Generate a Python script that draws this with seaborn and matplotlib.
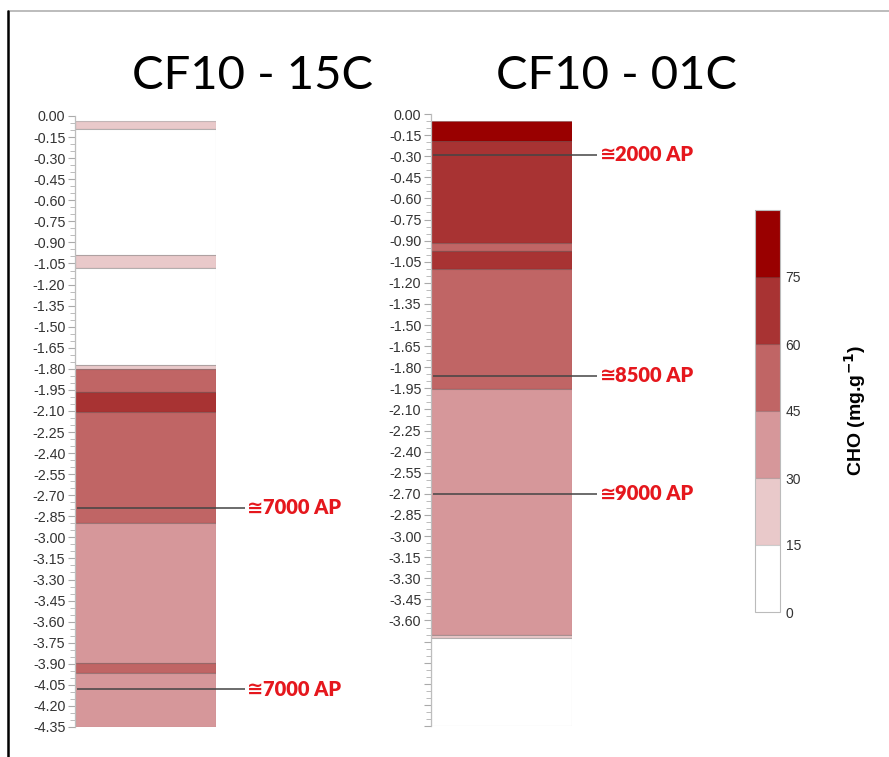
import matplotlib
matplotlib.use("Agg")
import matplotlib.pyplot as plt
import matplotlib.colors as mcolors
from matplotlib.cm import ScalarMappable
from matplotlib.ticker import MultipleLocator, FuncFormatter
import seaborn as sns

# Core names
core_names = ["CF10 - 15C", "CF10 - 01C"]

# CF10-15C: layer top / base depth (m) and CHO content (mg.g-1)
c15_top = [0.035, 0.09, 0.99, 1.08, 1.775, 1.80, 1.965, 2.105, 2.90, 3.895, 3.965]
c15_base = [0.09, 0.99, 1.08, 1.775, 1.80, 1.965, 2.105, 2.90, 3.895, 3.965, 4.35]
c15_cho = [22, 8, 22, 8, 22, 52, 68, 52, 38, 52, 38]

# CF10-01C: layer top / base depth (m) and CHO content (mg.g-1)
c01_top = [0.05, 0.19, 0.915, 0.972, 1.104, 1.955, 3.70, 3.725]
c01_base = [0.19, 0.915, 0.972, 1.104, 1.955, 3.70, 3.725, 4.35]
c01_cho = [82, 68, 52, 68, 52, 38, 22, 8]

# Dated horizons
c15_age_depth = [2.79, 4.08]
c15_age_label = ["7000 AP", "7000 AP"]
c01_age_depth = [0.29, 1.86, 2.70]
c01_age_label = ["2000 AP", "8500 AP", "9000 AP"]

# CHO classes
cho_bounds = [0, 15, 30, 45, 60, 75, 90]
cho_ticks = [0, 15, 30, 45, 60, 75]
cho_colors = ["#ffffff", "#e9c9ca", "#d6979a", "#c06565", "#a83333", "#990000"]

max_depth = 4.35

sns.set_theme(style="white")
plt.rcParams["font.family"] = ["Liberation Sans", "DejaVu Sans"]

palette = sns.color_palette(cho_colors)
cmap = mcolors.ListedColormap(palette)
norm = mcolors.BoundaryNorm(cho_bounds, cmap.N)

fig = plt.figure(figsize=(8.89, 7.57), dpi=100)

W, H = 889, 757


def px_axes(x0, y_top, x1, y_bot):
    return fig.add_axes([x0 / W, 1 - y_bot / H, (x1 - x0) / W, (y_bot - y_top) / H])


ax15 = px_axes(75, 116, 216, 727)
ax01 = px_axes(431, 114, 572, 726)

cores = [
    (ax15, c15_top, c15_base, c15_cho, c15_age_depth, c15_age_label, 1.205, None),
    (ax01, c01_top, c01_base, c01_cho, c01_age_depth, c01_age_label, 1.18, 3.6),
]

for ax, tops, bases, chos, ages, labels, line_end, label_limit in cores:
    for t, b, v in zip(tops, bases, chos):
        ax.bar(0, b - t, bottom=-b, width=1.0, align="center",
               color=cmap(norm(v)), edgecolor=(0, 0, 0, 0.2), linewidth=0.8)
    ax.set_xlim(-0.5, 0.5)
    ax.set_ylim(-max_depth, 0)
    for s in ["top", "right", "bottom"]:
        ax.spines[s].set_visible(False)
    ax.spines["left"].set_color("#bdbdbd")
    ax.spines["left"].set_linewidth(0.9)
    ax.set_xticks([])
    ax.yaxis.set_major_locator(MultipleLocator(0.15))
    ax.yaxis.set_minor_locator(MultipleLocator(0.05))

    def fmt(y, pos, lim=label_limit):
        if lim is not None and -y > lim + 1e-6:
            return ""
        return f"{y:.2f}" if abs(y) > 1e-9 else "0.00"

    ax.yaxis.set_major_formatter(FuncFormatter(fmt))
    ax.tick_params(axis="y", which="major", left=True, length=5, width=0.8,
                   color="#aaaaaa", labelsize=10.3, labelcolor="#333333", pad=2)
    ax.tick_params(axis="y", which="minor", left=True, length=3.5, width=0.7,
                   color="#bbbbbb")
    ax.set_facecolor("none")

    for d, lab in zip(ages, labels):
        ax.plot([-0.485, line_end - 0.5], [-d, -d], color="#444444", lw=1.1,
                clip_on=False, solid_capstyle="butt")
        ax.text(line_end - 0.5 + 0.015, -d, "\u2245", ha="left", va="center",
                color="#e5171d", fontsize=14, fontweight="bold",
                family=["DejaVu Sans"], clip_on=False)
        ax.text(line_end - 0.5 + 0.125, -d, lab, ha="left", va="center",
                color="#e5171d", fontsize=14.5, fontweight="heavy",
                family=["Lato", "DejaVu Sans"], clip_on=False)

# Core titles
fig.text(252 / W, 1 - 76 / H, core_names[0], ha="center", va="center",
         fontsize=34, family=["Lato", "DejaVu Sans"], color="black")
fig.text(616 / W, 1 - 76 / H, core_names[1], ha="center", va="center",
         fontsize=34, family=["Lato", "DejaVu Sans"], color="black")

# Colour scale
cax = px_axes(755, 210, 780, 612)
sm = ScalarMappable(norm=norm, cmap=cmap)
cb = fig.colorbar(sm, cax=cax, ticks=cho_ticks, drawedges=True)
cb.minorticks_off()
cb.outline.set_edgecolor("#bbbbbb")
cb.outline.set_linewidth(0.8)
cb.dividers.set_color((0, 0, 0, 0.2))
cb.dividers.set_linewidth(0.8)
cax.tick_params(length=0, labelsize=10, labelcolor="#333333", pad=4)
fig.text(855 / W, 1 - 410 / H, r"CHO (mg.g$^{\mathbf{-1}}$)", rotation=90,
         ha="center", va="center", fontsize=14, fontweight="bold", color="black")

# Page frame
fig.add_artist(plt.Line2D([8 / W, 1], [1 - 11 / H, 1 - 11 / H], color="#b0b0b0", lw=1.2))
fig.add_artist(plt.Line2D([8 / W, 8 / W], [0, 1 - 11 / H], color="black", lw=1.8))

fig.savefig("out.png", dpi=100)
